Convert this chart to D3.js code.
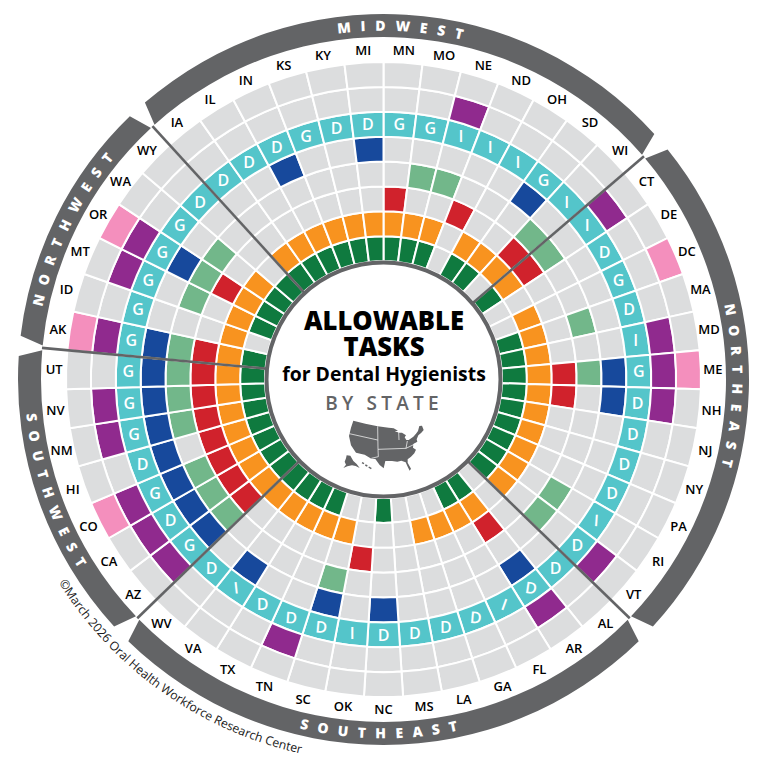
<!DOCTYPE html>
<html>
<head>
<meta charset="utf-8">
<title>Allowable Tasks for Dental Hygienists by State</title>
<script src="https://cdn.jsdelivr.net/npm/d3@7"></script>
<style>
  html, body { margin: 0; padding: 0; background: #fff; overflow: hidden; }
  svg { display: block; }
  text { font-family: "Open Sans", sans-serif; }
</style>
</head>
<body>
<svg id="chart" width="768" height="763"></svg>
<script>
// States clockwise from twelve o'clock, grouped by region.
const midwestRight = ["MN","MO","NE","ND","OH","SD","WI"];
const northeast = ["CT","DE","DC","MA","MD","ME","NH","NJ","NY","PA","RI","VT"];
const southeast = ["AL","AR","FL","GA","LA","MS","NC","OK","SC","TN","TX","VA","WV"];
const southwest = ["AZ","CA","CO","HI","NM","NV","UT"];
const northwest = ["AK","ID","MT","OR","WA","WY"];
const midwestLeft = ["IA","IL","IN","KS","KY","MI"];

// Supervision level letter shown in the teal ring, same order as the states.
const letterMidwestRight = ["G","G","I","I","I","G","I"];
const letterNortheast = ["I","D","G","D","I","G","D","D","D","D","I","D"];
const letterSoutheast = ["D","D","I","D","D","D","D","I","D","D","D","I","D"];
const letterSouthwest = ["G","D","G","D","G","G","G"];
const letterNorthwest = ["G","G","G","G","G","D"];
const letterMidwestLeft = ["D","D","D","G","D","D"];

// States allowing each task, one list per ring from the centre outward.
const ring1States = ["MN","MO","NE","OH","SD","CT","MA","MD","ME","NH","NJ","NY","PA","RI","VT","AR","FL","NC","TN","TX","VA","WV","AZ","CA","CO","HI","NM","NV","UT","AK","MT","OR","WA","WY","IA","IL","IN","KS","KY","MI"];
const ring2States = ["MN","MO","NE","OH","SD","WI","CT","DC","MA","MD","ME","NH","NJ","NY","PA","RI","VT","AR","FL","GA","LA","SC","TN","TX","VA","WV","AZ","CA","CO","HI","NM","NV","UT","AK","ID","MT","OR","WA","IA","IL","IN","KS","KY","MI"];
const ring3States = ["MN","ND","WI","CT","ME","NH","AR","OK","AZ","CA","CO","HI","NM","NV","UT","AK","OR"];
const ring4States = ["MO","NE","WI","CT","MA","ME","RI","VT","SC","AZ","CA","CO","NM","NV","UT","AK","MT","OR","WA"];
const ring5States = ["MI","SD","ME","NH","AR","NC","SC","VA","AZ","CA","CO","HI","NM","NV","UT","AK","OR","IN"];
const ring7States = ["NE","CT","MD","ME","NH","VT","AR","TN","AZ","CA","CO","NM","NV","AK","MT","OR"];
const ring8States = ["DC","ME","CO","AK","OR"];

const ringColors = ["#0f7a3f","#f8931f","#d0222c","#72b78a","#17499c","#54c5ca","#902a8e","#f48fbd"];
const gridGrey = "#dcddde";
const bandGrey = "#636466";

// A few letters sit slightly turned in their cells.
const letterTilt = { FL: 20, AR: 8, RI: 4, VA: -6, GA: 5, SC: 5, TN: 4 };

const states = [...midwestRight, ...northeast, ...southeast, ...southwest, ...northwest, ...midwestLeft];
const letters = new Map(d3.zip(states, [...letterMidwestRight, ...letterNortheast, ...letterSoutheast, ...letterSouthwest, ...letterNorthwest, ...letterMidwestLeft]));

const ringSets = [ring1States, ring2States, ring3States, ring4States, ring5States, states, ring7States, ring8States];

const cx = 383.5, cy = 379.5;
const rad = Math.PI / 180;

const angle = d3.scaleBand().domain(states).range([0, 2 * Math.PI]);
const ringBand = d3.scaleBand().domain(d3.range(8)).range([118.5, 317.5]);

const svg = d3.select("#chart");
const root = svg.append("g").attr("transform", `translate(${cx},${cy})`);
const defs = svg.append("defs");

const cellArc = d3.arc()
  .innerRadius(d => ringBand(d.ring))
  .outerRadius(d => ringBand(d.ring) + ringBand.bandwidth())
  .startAngle(d => angle(d.state))
  .endAngle(d => angle(d.state) + angle.bandwidth());

const cells = d3.cross(d3.range(8), states, (ring, state) => ({ ring, state, on: ringSets[ring].includes(state) }));

// Heat-map grid: coloured where the task is allowed, grey otherwise.
root.append("g").selectAll("path").data(cells).join("path")
  .attr("d", cellArc)
  .attr("fill", d => d.on ? ringColors[d.ring] : gridGrey)
  .attr("stroke", "#fff")
  .attr("stroke-width", 2);

// White letters in the teal ring.
root.append("g").selectAll("text").data(states).join("text")
  .attr("transform", s => {
    const [x, y] = cellArc.centroid({ ring: 5, state: s });
    return `translate(${x},${y}) rotate(${letterTilt[s] || 0})`;
  })
  .attr("text-anchor", "middle")
  .attr("dy", "0.36em")
  .attr("font-size", 16)
  .attr("font-weight", 600)
  .attr("fill", "#fff")
  .text(s => letters.get(s));

// State abbreviations around the outside of the grid.
root.append("g").selectAll("text").data(states).join("text")
  .attr("x", s => 329.5 * Math.sin(angle(s) + angle.bandwidth() / 2))
  .attr("y", s => -329.5 * Math.cos(angle(s) + angle.bandwidth() / 2))
  .attr("text-anchor", "middle")
  .attr("dy", "0.36em")
  .attr("font-size", 13)
  .attr("font-weight", 600)
  .attr("fill", "#000")
  .text(s => s);

// Regions as clockwise angle spans.
const regionSpans = [
  { name: "MIDWEST",   a0: angle("IA") - 2 * Math.PI, a1: angle("CT"), flip: false },
  { name: "NORTHEAST", a0: angle("CT"), a1: angle("AL"), flip: false },
  { name: "SOUTHEAST", a0: angle("AL"), a1: angle("AZ"), flip: true },
  { name: "SOUTHWEST", a0: angle("AZ"), a1: angle("AK"), flip: true },
  { name: "NORTHWEST", a0: angle("AK"), a1: angle("IA"), flip: false }
];

const bandInner = 342.5, bandOuter = 365.5;
const polar = (r, a) => [r * Math.cos(a - Math.PI / 2), r * Math.sin(a - Math.PI / 2)];

// Separators between regions, from the centre circle out to the outer band.
root.append("g").selectAll("line").data(regionSpans).join("line")
  .attr("x1", d => polar(118, d.a0)[0]).attr("y1", d => polar(118, d.a0)[1])
  .attr("x2", d => polar(bandInner + 0.5, d.a0)[0]).attr("y2", d => polar(bandInner + 0.5, d.a0)[1])
  .attr("stroke", bandGrey).attr("stroke-width", 2.6);

// Outer band segments, with ends cut on a slant.
root.append("g").selectAll("path").data(regionSpans).join("path")
  .attr("fill", bandGrey)
  .attr("d", d => {
    const p = d3.path();
    const outerA0 = d.a0 + 1.6 * rad - Math.PI / 2, outerA1 = d.a1 - 1.6 * rad - Math.PI / 2;
    const innerA0 = d.a0 + 0.4 * rad - Math.PI / 2, innerA1 = d.a1 - 0.4 * rad - Math.PI / 2;
    p.arc(0, 0, bandOuter, outerA0, outerA1, false);
    p.arc(0, 0, bandInner, innerA1, innerA0, true);
    p.closePath();
    return p.toString();
  });

// Region names follow the band; the lower two read left to right.
regionSpans.forEach((d, i) => {
  const p = d3.path();
  const a0 = d.a0 - Math.PI / 2, a1 = d.a1 - Math.PI / 2;
  if (d.flip) p.arc(0, 0, 358.8, a1, a0, true);
  else p.arc(0, 0, 348.8, a0, a1, false);
  defs.append("path").attr("id", `region-${i}`).attr("d", p.toString()).attr("transform", `translate(${cx},${cy})`);
  svg.append("text")
    .attr("font-size", 14)
    .attr("font-weight", 800)
    .attr("letter-spacing", 9.6)
    .attr("fill", "#fff")
    .append("textPath")
    .attr("href", `#region-${i}`)
    .attr("startOffset", "50%")
    .attr("text-anchor", "middle")
    .text(d.name);
});

// Credit line running along the lower left, outside the band.
const creditPath = d3.path();
creditPath.arc(0, 0, 383, 238 * rad - Math.PI / 2, 190 * rad - Math.PI / 2, true);
defs.append("path").attr("id", "credit").attr("d", creditPath.toString()).attr("transform", `translate(${cx},${cy})`);
svg.append("text")
  .attr("font-size", 12.2)
  .attr("fill", "#1a1a1a")
  .append("textPath")
  .attr("href", "#credit")
  .text("©March 2026 Oral Health Workforce Research Center");

// Centre disc.
root.append("circle").attr("r", 117).attr("fill", "#fff").attr("stroke", bandGrey).attr("stroke-width", 4);

// Title block.
const titleLines = [
  { text: "ALLOWABLE", y: 329.5, size: 25.6, weight: 800, fill: "#000", spacing: 0 },
  { text: "TASKS", y: 356, size: 25.6, weight: 800, fill: "#000", spacing: 0 },
  { text: "for Dental Hygienists", y: 381, size: 19.4, weight: 700, fill: "#000", spacing: 0 },
  { text: "BY STATE", y: 409.5, size: 19, weight: 600, fill: bandGrey, spacing: 4.2 }
];
svg.append("g").selectAll("text").data(titleLines).join("text")
  .attr("x", 384).attr("y", d => d.y)
  .attr("text-anchor", "middle")
  .attr("font-size", d => d.size)
  .attr("font-weight", d => d.weight)
  .attr("letter-spacing", d => d.spacing)
  .attr("fill", d => d.fill)
  .text(d => d.text);

// Small map icon: lower 48, Alaska, Hawaii and the region dividers.
const iconX = d3.scaleLinear().domain([0, 270]).range([342, 432]);
const iconY = d3.scaleLinear().domain([0, 180]).range([416, 476]);
const iconLine = d3.line().x(d => iconX(d[0])).y(d => iconY(d[1]));

const lower48 = [[34,14],[70,23],[107,31],[140,35],[155,37],[168,44],[158,46],[172,50],[180,50],[192,58],[188,64],[193,72],[200,72],[214,62],[222,53],[228,45],[232,30],[240,29],[245,42],[238,50],[229,58],[224,70],[226,77],[214,84],[213,95],[222,101],[217,112],[207,122],[197,130],[197,140],[207,158],[203,164],[197,152],[191,139],[178,134],[166,137],[150,135],[130,135],[125,157],[113,147],[100,129],[88,128],[68,116],[42,110],[27,88],[21,60],[27,35]];
const alaska = [[14,118],[25,119],[34,135],[44,144],[53,156],[41,150],[30,148],[16,151],[4,156],[12,146],[8,137],[12,127]];
const hawaii = [[[60,140],[66,143]],[[70,147],[76,150]],[[80,153],[88,158]]];
const dividers = [[[22,53],[107,72]],[[107,31],[108,100]],[[108,100],[192,97],[223,82]],[[108,100],[109,122],[88,127]],[[170,48],[171,72]],[[192,97],[196,75]]];

const icon = svg.append("g");
icon.append("path").attr("d", iconLine(lower48) + "Z").attr("fill", bandGrey);
icon.append("path").attr("d", iconLine(alaska) + "Z").attr("fill", bandGrey);
icon.selectAll(".island").data(hawaii).join("path").attr("class", "island")
  .attr("d", iconLine).attr("fill", "none").attr("stroke", bandGrey).attr("stroke-width", 1.4);
icon.selectAll(".divider").data(dividers).join("path").attr("class", "divider")
  .attr("d", iconLine).attr("fill", "none").attr("stroke", "#fff").attr("stroke-width", 0.7);
</script>
</body>
</html>
